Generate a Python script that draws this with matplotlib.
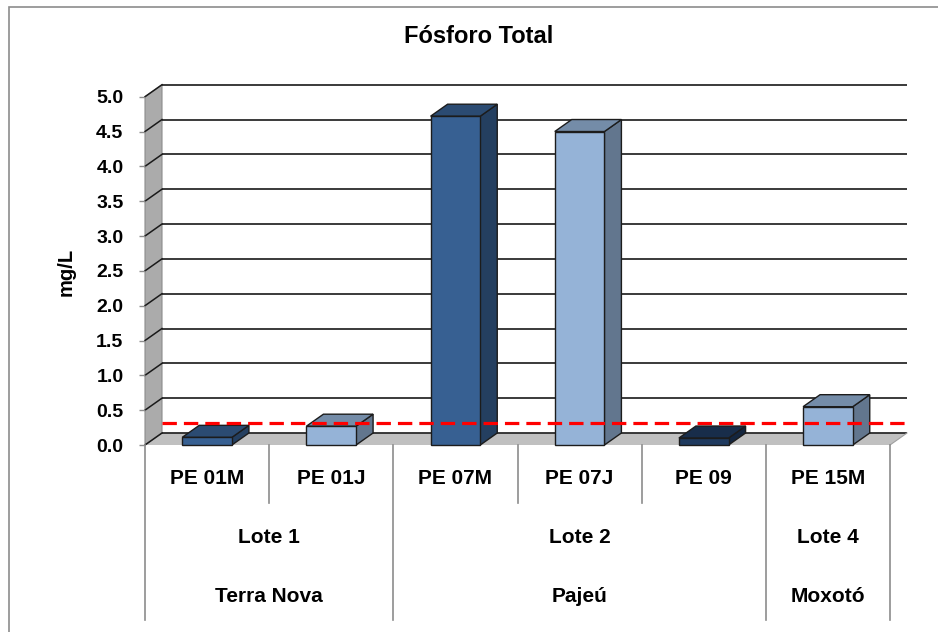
import numpy as np
import matplotlib
matplotlib.use("Agg")
import matplotlib.pyplot as plt
from matplotlib.patches import Polygon, Rectangle
from matplotlib.colors import to_rgb

# Dados de fósforo total por ponto de coleta
pontos = ["PE 01M", "PE 01J", "PE 07M", "PE 07J", "PE 09", "PE 15M"]
valores = [0.11, 0.27, 4.72, 4.50, 0.10, 0.55]
cores = ["#376092", "#95B3D7", "#376092", "#95B3D7", "#1F3A5F", "#95B3D7"]

# Agrupamentos do eixo x: (rótulo, primeiro índice, último índice)
lotes = [("Lote 1", 0, 1), ("Lote 2", 2, 4), ("Lote 4", 5, 5)]
bacias = [("Terra Nova", 0, 1), ("Pajeú", 2, 4), ("Moxotó", 5, 5)]

limite = 0.15  # linha de referência (tracejada)
yticks = np.arange(0, 5.01, 0.5)

plt.rcParams["font.family"] = ["Liberation Sans", "DejaVu Sans"]
plt.rcParams["font.weight"] = "bold"

W, H = 938, 632
fig = plt.figure(figsize=(W / 100, H / 100), dpi=100)
ax = fig.add_axes([145 / W, 187 / H, 745 / W, 348.3 / H])
ax.set_xlim(0, len(pontos))
ax.set_ylim(0, 5)
for s in ax.spines.values():
    s.set_visible(False)

# deslocamento de profundidade do efeito 3D (em unidades de dados)
dx, dy = 17 / 124.17, 12 / 69.66
n = len(pontos)

# moldura externa
fig.patches.append(Rectangle((9 / W, -0.1), 1.1, (H - 7) / H + 0.1,
                             transform=fig.transFigure, fill=False,
                             edgecolor="#8c8c8c", lw=1.2, zorder=0))

# piso
ax.add_patch(Polygon([(0, 0), (n, 0), (n + dx, dy), (dx, dy)], closed=True,
                     facecolor="#c0c0c0", edgecolor="none", zorder=0.5, clip_on=False))
# parede lateral
ax.add_patch(Polygon([(0, 0), (dx, dy), (dx, 5 + dy), (0, 5)], closed=True,
                     facecolor="#ababab", edgecolor="#8c8c8c", lw=0.8, zorder=0.6,
                     clip_on=False))
# linhas de grade na parede do fundo e na lateral
for v in yticks:
    ax.plot([dx, n + dx], [v + dy, v + dy], color="#2b2b2b", lw=1.3, zorder=1,
            clip_on=False, solid_capstyle="butt")
    ax.plot([0, dx], [v, v + dy], color="#1a1a1a", lw=1.1, zorder=1, clip_on=False)
ax.plot([n, n + dx], [0, dy], color="#a0a0a0", lw=0.8, zorder=1, clip_on=False)


def escurecer(cor, f):
    return tuple(c * f for c in to_rgb(cor))


# barras em "3D"
w = 0.4
for i, (v, c) in enumerate(zip(valores, cores)):
    x0 = i + 0.5 - w / 2
    x1 = x0 + w
    kw = dict(closed=True, edgecolor="#1c1c1c", lw=1.0, zorder=3, clip_on=False)
    ax.add_patch(Polygon([(x1, 0), (x1 + dx, dy), (x1 + dx, v + dy), (x1, v)],
                         facecolor=escurecer(c, 0.66), **kw))
    ax.add_patch(Polygon([(x0, v), (x1, v), (x1 + dx, v + dy), (x0 + dx, v + dy)],
                         facecolor=escurecer(c, 0.78), **kw))
    ax.add_patch(Polygon([(x0, 0), (x1, 0), (x1, v), (x0, v)],
                         facecolor=c, **kw))

# linha de referência
ax.plot([dx, n + dx], [limite + dy, limite + dy], color="#ff0000", lw=2.3,
        ls=(0, (4.5, 2.2)), zorder=5, clip_on=False)

# eixo y
ax.set_xticks([])
ax.set_yticks(yticks)
ax.set_yticklabels([f"{v:.1f}" for v in yticks], fontsize=14, fontweight="bold")
ax.tick_params(axis="y", length=4, width=1, color="#8c8c8c", pad=11.5)
fig.text(66 / W, 1 - 272 / H, "mg/L", rotation=90, ha="center", va="center",
         fontsize=14.5, fontweight="bold")

# título
fig.text(479 / W, 1 - 36.5 / H, "Fósforo Total", ha="center", va="center",
         fontsize=17, fontweight="bold")

# tabela de categorias abaixo do eixo
px = 69.66
y_row1 = -(479 - 445) / px
y_row2 = -(537.5 - 445) / px
y_row3 = -(596.5 - 445) / px
y_curta = -(503 - 445) / px
y_longa = -(620 - 445) / px

limites_grupo = {0, n} | {a for _, a, _ in lotes}
for k in range(n + 1):
    fim = y_longa if k in limites_grupo else y_curta
    ax.plot([k, k], [0, fim], color="#8c8c8c", lw=1.2, zorder=1, clip_on=False)

for i, p in enumerate(pontos):
    ax.text(i + 0.5, y_row1, p, ha="center", va="center", fontsize=15,
            fontweight="bold", clip_on=False)
for (lt, a, b), (bc, _, _) in zip(lotes, bacias):
    xc = (a + b + 1) / 2
    ax.text(xc, y_row2, lt, ha="center", va="center", fontsize=15,
            fontweight="bold", clip_on=False)
    ax.text(xc, y_row3, bc, ha="center", va="center", fontsize=15,
            fontweight="bold", clip_on=False)

fig.savefig("out.png", dpi=100)
